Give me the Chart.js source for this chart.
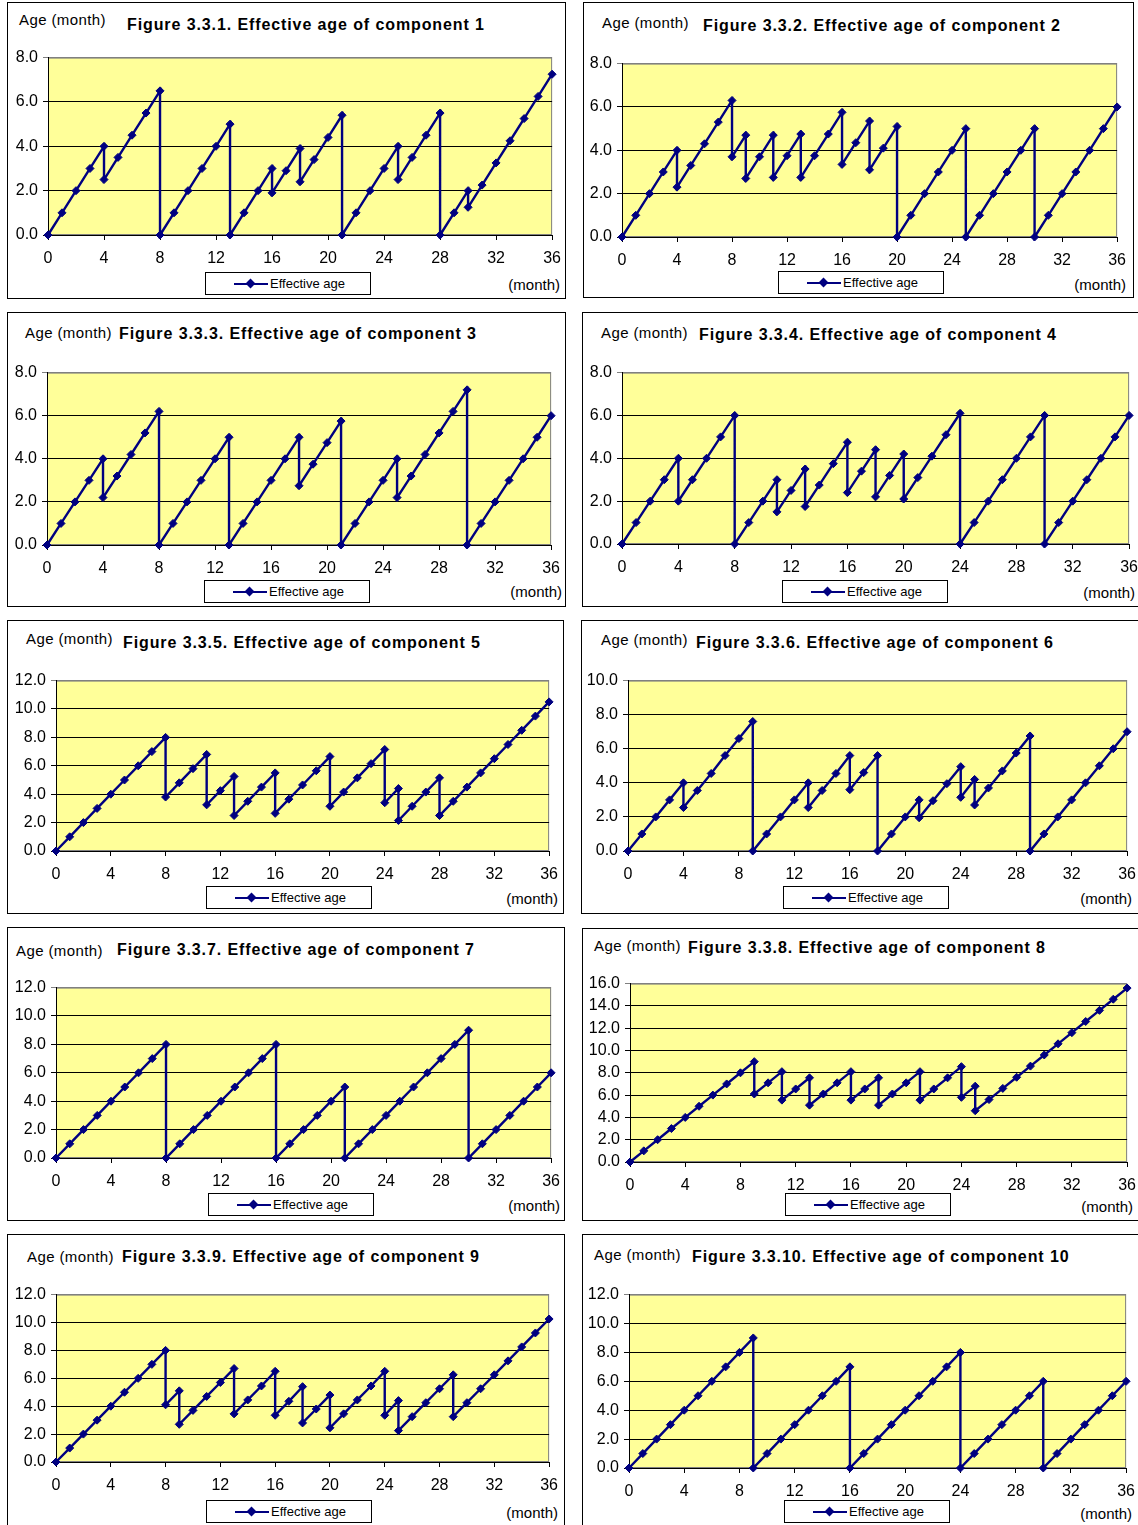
<!DOCTYPE html>
<html>
<head>
<meta charset="utf-8">
<script src="https://cdn.jsdelivr.net/npm/chart.js@4.4.1/dist/chart.umd.min.js"></script>
<style>
  body { margin: 0; width: 1138px; height: 1525px; overflow: hidden; position: relative; background: #fff;
         font-family: "Liberation Sans", Arial, sans-serif; color: #000; }
  .panel { position: absolute; border: 1px solid #000; box-sizing: border-box; background: #fff; }
  .txt { position: absolute; white-space: nowrap; transform: translateY(-50%); line-height: 1.2; }
  .title { font-weight: bold; font-size: 16px; letter-spacing: 0.9px; }
  .age { font-size: 15px; letter-spacing: 0.4px; }
  .month { font-size: 15px; transform: translate(-100%, -50%); }
  .legend { position: absolute; width: 166px; height: 23px; border: 1px solid #000; box-sizing: border-box; background: #fff; }
  .legend .ln { position: absolute; left: 28px; top: 10px; width: 34px; height: 2px; background: #000080; }
  .legend .dm { position: absolute; left: 41px; top: 7px; width: 7px; height: 7px; background: #000080; transform: rotate(45deg); }
  .legend .lt { position: absolute; left: 64px; top: 0; line-height: 21px; font-size: 13px; }
  canvas { position: absolute; }
</style>
</head>
<body>
<script>
// months on the x axis
const months = [0,1,2,3,4,5,6,7,8,9,10,11,12,13,14,15,16,17,18,19,20,21,22,23,24,25,26,27,28,29,30,31,32,33,34,35,36];
const xTicks = [0,4,8,12,16,20,24,28,32,36];

// effective age reached at each month (before any maintenance that month)
const age1 = [0,1,2,3,4,3.5,4.5,5.5,6.5,1,2,3,4,5,1,2,3,2.9,3.9,3.4,4.4,5.4,1,2,3,4,3.5,4.5,5.5,1,2,2.25,3.25,4.25,5.25,6.25,7.25];
const age2 = [0,1,2,3,4,3.3,4.3,5.3,6.3,4.7,3.7,4.7,3.75,4.75,3.75,4.75,5.75,4.35,5.35,4.1,5.1,1,2,3,4,5,1,2,3,4,5,1,2,3,4,5,6];
const age3 = [0,1,2,3,4,3.2,4.2,5.2,6.2,1,2,3,4,5,1,2,3,4,5,3.75,4.75,5.75,1,2,3,4,3.2,4.2,5.2,6.2,7.2,1,2,3,4,5,6];
const age4 = [0,1,2,3,4,3,4,5,6,1,2,3,2.5,3.5,2.75,3.75,4.75,3.4,4.4,3.2,4.2,3.1,4.1,5.1,6.1,1,2,3,4,5,6,1,2,3,4,5,6];
const age5 = [0,1,2,3,4,5,6,7,8,4.8,5.8,6.8,4.25,5.25,3.5,4.5,5.5,3.65,4.65,5.65,6.65,4.15,5.15,6.15,7.15,4.4,3.15,4.15,5.15,3.5,4.5,5.5,6.5,7.5,8.5,9.5,10.5];
const age6 = [0,1,2,3,4,3.55,4.55,5.6,6.6,7.6,1,2,3,4,3.55,4.55,5.6,4.6,5.6,1,2,3,2.95,3.95,4.95,4.2,3.7,4.7,5.75,6.75,1,2,3,4,5,6,7];
const age7 = [0,1,2,3,4,5,6,7,8,1,2,3,4,5,6,7,8,1,2,3,4,5,1,2,3,4,5,6,7,8,9,1,2,3,4,5,6];
const age8 = [0,1,2,3,4,5,6,7,8,9,7.1,8.1,6.55,7.55,6.1,7.1,8.1,6.55,7.55,6.1,7.1,8.1,6.55,7.55,8.55,6.8,5.6,6.6,7.6,8.6,9.6,10.6,11.6,12.6,13.6,14.6,15.6];
const age9 = [0,1,2,3,4,5,6,7,8,5.1,3.7,4.7,5.7,6.7,4.45,5.45,6.5,4.35,5.4,3.8,4.8,3.45,4.45,5.45,6.5,4.4,3.25,4.25,5.25,6.25,4.25,5.25,6.25,7.25,8.25,9.25,10.25];
const age10 = [0,1,2,3,4,5,6,7,8,9,1,2,3,4,5,6,7,1,2,3,4,5,6,7,8,1,2,3,4,5,6,1,2,3,4,5,6];

// maintenance at [month, effective age right after]
const reset1 = [[4,2.5],[8,0],[13,0],[16,1.9],[18,2.4],[21,0],[25,2.5],[28,0],[30,1.25]];
const reset2 = [[4,2.3],[8,3.7],[9,2.7],[11,2.75],[13,2.75],[16,3.35],[18,3.1],[20,0],[25,0],[30,0]];
const reset3 = [[4,2.2],[8,0],[13,0],[18,2.75],[21,0],[25,2.2],[30,0]];
const reset4 = [[4,2],[8,0],[11,1.5],[13,1.75],[16,2.4],[18,2.2],[20,2.1],[24,0],[30,0]];
const reset5 = [[8,3.8],[11,3.25],[13,2.5],[16,2.65],[20,3.15],[24,3.4],[25,2.15],[28,2.5]];
const reset6 = [[4,2.55],[9,0],[13,2.55],[16,3.6],[18,0],[21,1.95],[24,3.15],[25,2.7],[29,0]];
const reset7 = [[8,0],[16,0],[21,0],[30,0]];
const reset8 = [[9,6.1],[11,5.55],[13,5.1],[16,5.55],[18,5.1],[21,5.55],[24,5.8],[25,4.6]];
const reset9 = [[8,4.1],[9,2.7],[13,3.45],[16,3.35],[18,2.8],[20,2.45],[24,3.35],[25,2.25],[29,3.25]];
const reset10 = [[9,0],[16,0],[24,0],[30,0]];

const yMax = [8, 8, 8, 8, 12, 10, 12, 16, 12, 12];
const titles = [
  'Figure 3.3.1. Effective age of component 1',
  'Figure 3.3.2. Effective age of component 2',
  'Figure 3.3.3. Effective age of component 3',
  'Figure 3.3.4. Effective age of component 4',
  'Figure 3.3.5. Effective age of component 5',
  'Figure 3.3.6. Effective age of component 6',
  'Figure 3.3.7. Effective age of component 7',
  'Figure 3.3.8. Effective age of component 8',
  'Figure 3.3.9. Effective age of component 9',
  'Figure 3.3.10. Effective age of component 10'
];

const ages = [age1, age2, age3, age4, age5, age6, age7, age8, age9, age10];
const resets = [reset1, reset2, reset3, reset4, reset5, reset6, reset7, reset8, reset9, reset10];

// page layout of each panel (box and plot are [left, top, right, bottom])
const layout = [
  {box:[7,2,566,299],     plot:[48,55,556,235],     age:[19,20],    title:[127,25],   legend:[205,272],  month:[560,285]},
  {box:[583,2,1134,298],  plot:[622,61,1121,237],   age:[602,23],   title:[703,26],   legend:[778,271],  month:[1126,285]},
  {box:[7,312,566,607],   plot:[47,370,555,545],    age:[25,333],   title:[119,334],  legend:[204,580],  month:[562,592]},
  {box:[582,312,1150,607],plot:[622,370,1133,544],  age:[601,333],  title:[699,335],  legend:[782,580],  month:[1135,593]},
  {box:[7,620,564,914],   plot:[56,678,553,851],    age:[26,639],   title:[123,643],  legend:[206,886],  month:[558,899]},
  {box:[581,620,1150,914],plot:[628,678,1131,851],  age:[601,640],  title:[696,643],  legend:[783,886],  month:[1132,899]},
  {box:[7,927,565,1221],  plot:[56,985,555,1158],   age:[16,951],   title:[117,950],  legend:[208,1193], month:[560,1206]},
  {box:[582,928,1150,1221],plot:[630,981,1131,1162],age:[594,946],  title:[688,948],  legend:[785,1193], month:[1133,1207]},
  {box:[7,1234,565,1540], plot:[56,1292,553,1462],  age:[27,1257],  title:[122,1257], legend:[206,1500], month:[558,1513]},
  {box:[582,1234,1150,1540],plot:[629,1292,1130,1468],age:[594,1255],title:[692,1257],legend:[784,1500], month:[1132,1514]}
];

Chart.defaults.font.family = '"Liberation Sans", Arial, sans-serif';
Chart.defaults.color = '#000';

// yellow plot area with grey frame
const plotBg = {
  id: 'plotBg',
  beforeDraw(chart) {
    const a = chart.chartArea, c = chart.ctx;
    c.save();
    c.fillStyle = '#FFFF99';
    c.fillRect(a.left, a.top, a.right - a.left, a.bottom - a.top);
    c.strokeStyle = '#808080';
    c.lineWidth = 1;
    c.strokeRect(a.left + 0.5, a.top + 0.5, a.right - a.left - 1, a.bottom - a.top - 1);
    c.restore();
  }
};

function addText(cls, text, x, y) {
  const d = document.createElement('div');
  d.className = 'txt ' + cls;
  d.textContent = text;
  d.style.left = x + 'px';
  d.style.top = y + 'px';
  document.body.appendChild(d);
}

const padL = 46, padT = 12, padR = 14, padB = 34;

layout.forEach(function (L, i) {
  const box = document.createElement('div');
  box.className = 'panel';
  box.style.left = L.box[0] + 'px';
  box.style.top = L.box[1] + 'px';
  box.style.width = (L.box[2] - L.box[0]) + 'px';
  box.style.height = (L.box[3] - L.box[1]) + 'px';
  document.body.appendChild(box);

  addText('age', 'Age (month)', L.age[0], L.age[1]);
  addText('title', titles[i], L.title[0], L.title[1]);
  addText('month', '(month)', L.month[0], L.month[1]);

  const lg = document.createElement('div');
  lg.className = 'legend';
  lg.style.left = L.legend[0] + 'px';
  lg.style.top = L.legend[1] + 'px';
  lg.innerHTML = '<div class="ln"></div><div class="dm"></div><div class="lt">Effective age</div>';
  document.body.appendChild(lg);

  const cv = document.createElement('canvas');
  const w = L.plot[2] - L.plot[0] + padL + padR;
  const h = L.plot[3] - L.plot[1] + padT + padB;
  cv.width = w; cv.height = h;
  cv.style.width = w + 'px'; cv.style.height = h + 'px';
  cv.style.left = (L.plot[0] - padL) + 'px';
  cv.style.top = (L.plot[1] - padT) + 'px';
  document.body.appendChild(cv);

  // points: one per month, plus the value right after maintenance
  const pts = [];
  months.forEach(function (m) {
    pts.push({ x: m, y: ages[i][m] });
    resets[i].forEach(function (r) {
      if (r[0] === m) pts.push({ x: m, y: r[1] });
    });
  });

  const ymax = yMax[i];
  new Chart(cv.getContext('2d'), {
    type: 'line',
    data: {
      datasets: [{
        label: 'Effective age',
        data: pts,
        borderColor: '#000080',
        backgroundColor: '#000080',
        borderWidth: 2.4,
        pointStyle: 'rectRot',
        pointRadius: 4,
        pointHoverRadius: 4,
        pointBorderWidth: 1,
        tension: 0,
        clip: false
      }]
    },
    options: {
      responsive: false,
      animation: false,
      events: [],
      layout: { padding: { left: 0, top: padT, right: padR, bottom: 0 } },
      plugins: { legend: { display: false }, tooltip: { enabled: false } },
      scales: {
        x: {
          type: 'linear',
          min: 0,
          max: 36,
          afterFit: function (s) { s.height = padB; },
          afterBuildTicks: function (s) { s.ticks = xTicks.map(function (v) { return { value: v }; }); },
          ticks: { color: '#000', font: { size: 16 }, padding: 9, maxRotation: 0, autoSkip: false },
          grid: { drawOnChartArea: false, color: '#000', tickLength: 5 },
          border: { color: '#000', width: 1 }
        },
        y: {
          min: 0,
          max: ymax,
          afterFit: function (s) { s.width = padL; },
          ticks: {
            stepSize: 2,
            color: '#000',
            font: { size: 16 },
            padding: 5,
            callback: function (v) { return v.toFixed(1); }
          },
          grid: {
            color: function (ctx) { return ctx.tick && ctx.tick.value === ymax ? '#808080' : '#000'; },
            tickLength: 5
          },
          border: { color: '#000', width: 1 }
        }
      }
    },
    plugins: [plotBg]
  });
});
</script>
</body>
</html>
